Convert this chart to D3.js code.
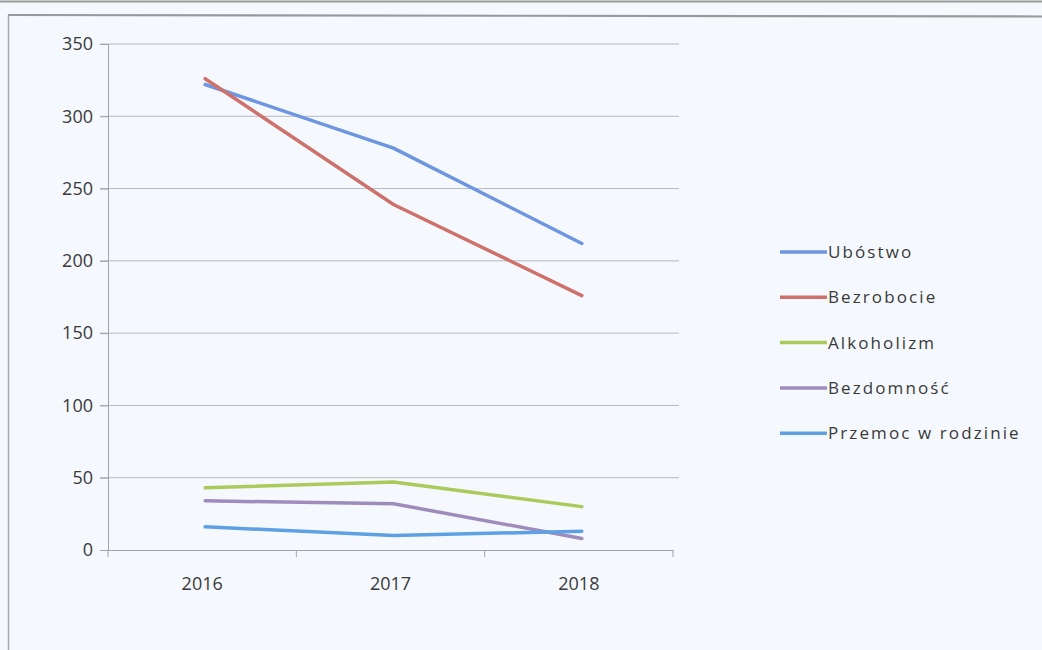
<!DOCTYPE html>
<html>
<head>
<meta charset="utf-8">
<script src="https://cdn.jsdelivr.net/npm/d3@7"></script>
<style>
  html, body { margin: 0; padding: 0; background: #f5f9fd; }
  svg { display: block; }
  text { font-family: "Open Sans", "Liberation Sans", sans-serif; fill: #3a3a3a; }
</style>
</head>
<body>
<script>
const years = ["2016", "2017", "2018"];
const seriesNames = ["Ubóstwo", "Bezrobocie", "Alkoholizm", "Bezdomność", "Przemoc w rodzinie"];
const ubostwo = [322, 278, 212];
const bezrobocie = [326, 239, 176];
const alkoholizm = [43, 47, 30];
const bezdomnosc = [34, 32, 8];
const przemoc = [16, 10, 13];
const yTicks = [0, 50, 100, 150, 200, 250, 300, 350];
const colors = ["#6d95e0", "#cf716b", "#aacb5b", "#a08bbd", "#5ea0e4"];

const series = [ubostwo, bezrobocie, alkoholizm, bezdomnosc, przemoc];

const W = 1042, H = 650;
const svg = d3.select("body").append("svg").attr("width", W).attr("height", H);

svg.append("rect").attr("width", W).attr("height", H).attr("fill", "#f5f9fd");

// scanned frame
svg.append("line").attr("x1", 0).attr("x2", W).attr("y1", 1.5).attr("y2", 1.5)
  .attr("stroke", "#9a9a9a").attr("stroke-width", 2);
svg.append("line").attr("x1", 8).attr("x2", W).attr("y1", 15).attr("y2", 16.5)
  .attr("stroke", "#999").attr("stroke-width", 2.2);
svg.append("line").attr("x1", 8.5).attr("x2", 8.5).attr("y1", 15).attr("y2", H)
  .attr("stroke", "#aaa").attr("stroke-width", 1.5);

const x = d3.scaleBand().domain(years).range([108, 673]);
const y = d3.scaleLinear().domain([0, 350]).range([550, 44]);

// gridlines
svg.append("g").selectAll("line").data(yTicks.filter(d => d > 0)).join("line")
  .attr("x1", 100).attr("x2", 679)
  .attr("y1", d => y(d)).attr("y2", d => y(d))
  .attr("stroke", "#b4b8c0").attr("stroke-width", 1);

// y axis
const yAxis = svg.append("g").attr("transform", "translate(108,0)")
  .call(d3.axisLeft(y).tickValues(yTicks).tickSize(8).tickPadding(7));
yAxis.select(".domain").attr("stroke", "#a0a4aa");
yAxis.selectAll(".tick line").attr("stroke", "#a0a4aa");
yAxis.selectAll("text").style("font-size", "18px").attr("fill", "#3a3a3a");

// x axis
const xAxis = svg.append("g").attr("transform", "translate(0,550)")
  .call(d3.axisBottom(x).tickSize(0).tickPadding(27));
xAxis.select(".domain").attr("stroke", "#a0a4aa");
xAxis.selectAll("text").style("font-size", "18px").attr("fill", "#3a3a3a");
// category boundary ticks
svg.append("g").selectAll("line").data(years.concat(["end"])).join("line")
  .attr("x1", (d, i) => i < years.length ? x(d) : x(years[years.length - 1]) + x.bandwidth())
  .attr("x2", (d, i) => i < years.length ? x(d) : x(years[years.length - 1]) + x.bandwidth())
  .attr("y1", 550).attr("y2", 557)
  .attr("stroke", "#a0a4aa");

// lines
const line = d3.line()
  .x((d, i) => x(years[i]) + x.bandwidth() / 2 + 3)
  .y(d => y(d));

svg.append("g").selectAll("path").data(series).join("path")
  .attr("d", d => line(d))
  .attr("fill", "none")
  .attr("stroke", (d, i) => colors[i])
  .attr("stroke-width", 3.5)
  .attr("stroke-linejoin", "round")
  .attr("stroke-linecap", "round");

// legend
const leg = svg.append("g").attr("transform", "translate(780,252)");
const rows = leg.selectAll("g").data(seriesNames).join("g")
  .attr("transform", (d, i) => `translate(0,${i * 45.3})`);
rows.append("line").attr("x1", 0).attr("x2", 47).attr("y1", 0).attr("y2", 0)
  .attr("stroke", (d, i) => colors[i]).attr("stroke-width", 3.5);
rows.append("text").attr("x", 48).attr("y", 0).attr("dy", "0.35em")
  .style("font-size", "17px").style("letter-spacing", "2.1px")
  .text(d => d);
</script>
</body>
</html>
